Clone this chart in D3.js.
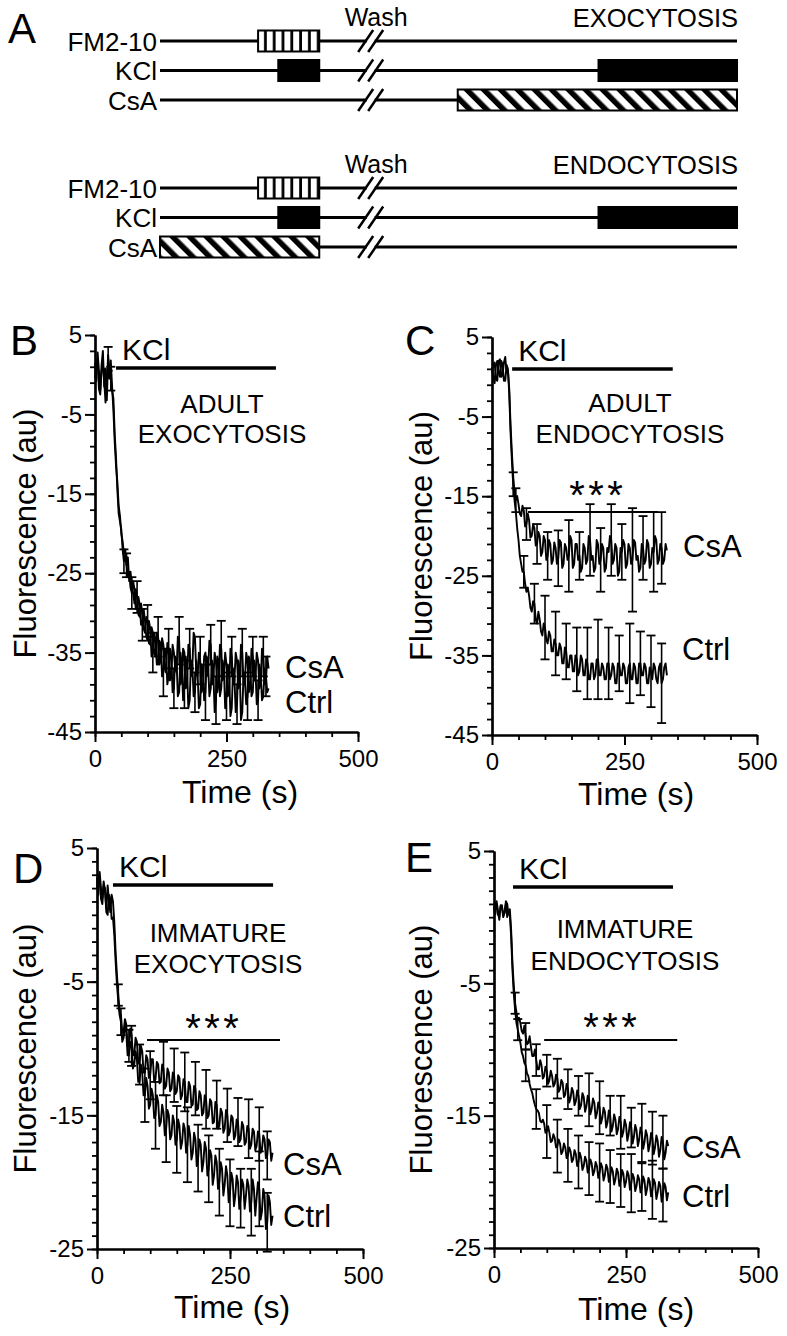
<!DOCTYPE html>
<html>
<head>
<meta charset="utf-8">
<script src="https://cdn.jsdelivr.net/npm/d3@7/dist/d3.min.js"></script>
<style>
html,body{margin:0;padding:0;background:#fff;}
svg{display:block;}
svg text{font-family:"Liberation Sans",Arial,Helvetica,sans-serif;fill:#000;}
</style>
</head>
<body>
<svg id="fig" width="787" height="1336"></svg>
<script>
// ================= DATA =================
// Panel A protocol schematic (protocol units 0-100 along the time line)
const protocolRows = ["FM2-10", "KCl", "CsA"];
const protocolTitles = ["EXOCYTOSIS", "ENDOCYTOSIS"];
const washLabel = "Wash";
const exoBlocks = [["FM2-10", 17, 27.6, "vstripe"], ["KCl", 20.5, 27.6, "solid"], ["KCl", 76, 100, "solid"], ["CsA", 51.6, 100, "diag"]];
const endoBlocks = [["FM2-10", 17, 27.6, "vstripe"], ["KCl", 20.5, 27.6, "solid"], ["KCl", 76, 100, "solid"], ["CsA", 0, 27.6, "diag"]];
const washBreak = 36.6;

// Axis ticks
const xTicks = [0, 250, 500];
const yTicksAdult = [5, -5, -15, -25, -35, -45];
const yTicksImmature = [5, -5, -15, -25];

// Time base (s)
const time = [0,2.5,5,7.5,10,12.5,15,17.5,20,22.5,25,27.5,
  30,32.5,35,37.5,40,42.5,45,47.5,50,52.5,55,57.5,
  60,62.5,65,67.5,70,72.5,75,77.5,80,82.5,85,87.5,
  90,92.5,95,97.5,100,102.5,105,107.5,110,112.5,115,117.5,
  120,122.5,125,127.5,130,132.5,135,137.5,140,142.5,145,147.5,
  150,152.5,155,157.5,160,162.5,165,167.5,170,172.5,175,177.5,
  180,182.5,185,187.5,190,192.5,195,197.5,200,202.5,205,207.5,
  210,212.5,215,217.5,220,222.5,225,227.5,230,232.5,235,237.5,
  240,242.5,245,247.5,250,252.5,255,257.5,260,262.5,265,267.5,
  270,272.5,275,277.5,280,282.5,285,287.5,290,292.5,295,297.5,
  300,302.5,305,307.5,310,312.5,315,317.5,320,322.5,325,327.5,
  330];

// B: adult exocytosis
const bCsA = [1.5,-0.8,2.8,0.5,-2.0,1.2,3.0,-1.5,0.8,-3.2,2.0,-0.5,
  1.8,-1.5,-4.5,-8.5,-11.5,-13.5,-16.5,-17.8,-20.0,-21.0,-22.5,-22.0,
  -24.0,-23.0,-26.0,-24.8,-26.5,-27.5,-28.8,-27.0,-28.0,-30.2,-30.5,-28.8,
  -30.0,-32.0,-32.5,-30.5,-31.0,-33.8,-34.0,-31.8,-32.5,-35.0,-35.5,-32.5,
  -33.0,-36.5,-36.0,-33.2,-34.0,-37.0,-37.5,-33.8,-34.5,-38.5,-38.0,-34.0,
  -35.0,-37.0,-37.5,-33.0,-33.5,-39.0,-38.5,-34.5,-35.0,-39.5,-39.0,-34.0,
  -34.5,-38.0,-37.0,-32.5,-33.0,-37.5,-38.0,-35.0,-36.0,-40.0,-39.5,-35.5,
  -35.0,-38.0,-37.5,-33.5,-34.0,-39.0,-38.5,-35.0,-36.0,-40.0,-39.0,-34.0,
  -34.5,-38.5,-38.0,-35.0,-36.5,-40.5,-40.0,-34.5,-35.5,-39.0,-38.5,-35.0,
  -36.0,-39.5,-39.0,-34.0,-35.0,-39.0,-38.5,-35.0,-36.0,-40.0,-39.5,-34.5,
  -35.5,-38.5,-38.0,-35.0,-36.0,-39.5,-39.0,-34.5,-35.5,-39.0,-38.5,-35.5,
  -37.0];
const bCtrl = [-0.5,1.2,2.0,-1.8,-2.5,0.5,1.5,-0.8,-3.5,-1.0,2.5,0.2,
  -0.5,-2.0,-3.0,-7.5,-10.5,-14.5,-17.5,-18.5,-19.5,-22.0,-23.5,-22.8,
  -24.0,-25.5,-25.0,-26.8,-27.5,-26.0,-27.0,-29.5,-29.5,-28.0,-29.0,-31.5,
  -31.5,-29.5,-31.0,-33.0,-33.5,-31.0,-32.0,-35.5,-35.0,-32.5,-33.5,-36.5,
  -36.5,-33.5,-34.0,-38.0,-37.5,-34.5,-35.0,-39.0,-38.0,-34.5,-35.5,-40.0,
  -39.5,-35.5,-36.0,-40.5,-40.0,-35.0,-36.5,-41.0,-39.0,-35.5,-37.0,-42.0,
  -41.0,-36.0,-36.5,-40.5,-40.0,-36.0,-37.5,-42.0,-41.5,-36.5,-37.0,-41.0,
  -40.0,-35.5,-36.5,-40.5,-39.5,-36.0,-37.5,-42.5,-41.0,-35.5,-36.0,-40.5,
  -39.5,-36.0,-37.0,-42.0,-40.5,-36.5,-37.5,-43.0,-42.0,-37.0,-38.0,-42.5,
  -41.5,-36.0,-37.0,-43.5,-42.5,-37.5,-38.5,-41.5,-40.5,-35.5,-36.5,-40.5,
  -40.0,-36.0,-37.0,-41.5,-41.0,-36.5,-37.5,-41.0,-40.5,-37.0,-38.0,-40.0,
  -39.5];
const bCsAErrT = [25,60,80,100,120,140,160,180,200,220,240,260,280,300,320];
const bCsAErr  = [1.5,1.5,2.0,2.0,2.5,2.5,3.0,2.5,3.0,2.5,3.5,2.5,3.0,2.5,2.5];
const bCtrlErrT = [30,55,70,90,110,130,150,170,190,210,230,250,270,290,310,325];
const bCtrlErr  = [1.5,1.5,2.0,2.0,2.5,3.0,2.5,3.0,2.5,3.5,3.0,3.0,2.5,3.0,2.5,2.5];

// C: adult endocytosis
const cCsA = [0.5,1.5,1.8,-0.3,-0.5,2.0,2.2,0.0,0.2,1.8,2.5,0.5,
  0.8,-1.5,-6.0,-9.5,-12.5,-14.5,-15.5,-15.0,-16.0,-17.2,-17.5,-16.2,
  -16.8,-18.8,-18.5,-17.2,-18.0,-20.2,-20.0,-18.5,-19.0,-21.2,-21.0,-19.5,
  -20.0,-22.5,-22.0,-20.0,-20.5,-23.0,-22.5,-20.5,-21.0,-23.5,-23.0,-20.8,
  -21.5,-23.5,-22.8,-20.5,-20.8,-24.0,-23.5,-21.0,-21.5,-23.0,-22.5,-20.0,
  -20.5,-24.0,-23.5,-21.0,-21.0,-23.0,-22.5,-24.5,-24.0,-21.0,-21.5,-23.5,
  -23.0,-20.0,-20.5,-23.0,-22.5,-24.5,-24.0,-20.5,-21.0,-23.5,-23.0,-21.0,
  -21.5,-24.5,-24.0,-21.5,-22.0,-20.0,-20.5,-23.5,-23.0,-21.0,-21.5,-25.0,
  -24.5,-21.5,-22.0,-20.5,-21.0,-24.0,-23.5,-21.0,-21.5,-23.5,-23.0,-20.5,
  -20.8,-23.0,-22.5,-24.5,-24.0,-21.0,-21.5,-23.5,-23.0,-20.5,-21.0,-24.0,
  -23.5,-21.5,-22.0,-20.0,-20.5,-23.5,-23.0,-21.0,-21.5,-23.5,-23.0,-21.0,
  -21.8];
const cCtrl = [1.2,0.0,-0.8,1.5,2.0,0.5,0.0,2.0,1.5,-0.5,-0.5,1.5,
  1.0,-2.0,-7.0,-10.5,-13.5,-15.5,-17.0,-19.0,-20.5,-22.5,-23.5,-24.5,
  -24.5,-26.0,-27.0,-26.5,-27.5,-29.0,-29.5,-28.2,-28.5,-30.5,-31.0,-29.5,
  -30.5,-32.0,-32.5,-31.0,-31.5,-33.0,-33.5,-32.0,-32.5,-34.5,-34.5,-33.0,
  -33.5,-35.0,-35.0,-33.5,-34.0,-36.0,-36.0,-34.0,-34.5,-36.5,-36.5,-35.0,
  -35.0,-37.0,-37.0,-35.0,-35.5,-37.5,-37.0,-35.0,-35.5,-37.5,-37.5,-35.5,
  -36.0,-38.0,-38.0,-36.0,-36.0,-38.0,-37.5,-35.5,-35.5,-37.5,-37.5,-36.0,
  -36.5,-38.0,-38.0,-36.0,-36.0,-38.0,-37.5,-36.0,-36.5,-38.5,-38.5,-36.0,
  -36.0,-37.5,-37.5,-36.0,-36.5,-38.5,-38.5,-36.5,-36.0,-38.0,-38.0,-36.0,
  -36.5,-38.5,-38.5,-36.0,-36.0,-37.5,-37.5,-36.0,-36.5,-38.5,-38.5,-36.5,
  -37.0,-38.0,-36.0,-36.5,-38.0,-38.5,-36.5,-36.0,-38.5,-38.0,-36.5,-36.0,
  -37.5];
const cCsAErrT = [45,65,85,105,125,145,165,185,205,225,245,265,285,305,320];
const cCsAErr  = [1.5,2.0,2.5,3.0,3.5,4.5,3.0,4.5,4.0,4.5,3.5,6.5,4.0,5.0,4.5];
const cCtrlErrT = [40,60,80,100,120,140,160,180,200,220,240,260,280,300,320];
const cCtrlErr  = [1.5,2.0,2.5,4.0,4.0,3.5,4.0,4.5,5.0,4.5,3.5,5.0,4.0,4.5,5.0];

// D: immature exocytosis
const dCsA = [2.8,1.5,3.2,2.0,1.2,2.5,1.8,0.5,2.2,1.0,0.2,1.5,
  1.0,-0.5,-2.8,-4.5,-6.0,-7.2,-7.5,-8.8,-8.8,-7.8,-8.2,-9.8,
  -9.8,-8.5,-9.0,-10.5,-10.5,-9.2,-9.5,-11.0,-11.2,-9.8,-10.2,-11.8,
  -11.8,-10.5,-10.8,-12.2,-12.0,-10.8,-10.8,-12.5,-12.3,-11.0,-11.2,-12.6,
  -12.5,-11.2,-11.5,-13.0,-12.8,-11.5,-11.8,-13.2,-13.0,-11.8,-12.0,-13.4,
  -13.2,-12.0,-12.2,-13.8,-13.5,-12.3,-12.5,-14.0,-14.0,-12.5,-12.8,-14.3,
  -14.2,-12.8,-13.0,-14.6,-14.5,-13.2,-13.5,-15.0,-14.8,-13.5,-13.8,-15.2,
  -15.0,-13.8,-14.0,-15.6,-15.5,-14.0,-14.2,-16.0,-15.8,-14.5,-14.8,-16.3,
  -16.0,-14.6,-15.0,-16.5,-16.2,-15.0,-15.2,-16.8,-16.5,-15.3,-15.5,-17.0,
  -16.8,-15.5,-15.8,-17.2,-17.0,-15.8,-16.0,-17.5,-17.2,-16.0,-16.2,-17.6,
  -17.3,-16.2,-16.4,-17.8,-17.6,-16.5,-16.8,-18.2,-18.0,-16.8,-17.0,-18.4,
  -17.8];
const dCtrl = [2.0,3.0,2.8,1.2,0.8,2.2,2.0,0.2,0.0,1.5,1.2,-0.3,
  -0.2,-1.5,-3.5,-5.2,-6.5,-7.5,-8.0,-9.5,-9.2,-8.2,-8.8,-10.5,
  -10.5,-9.5,-9.8,-11.5,-11.2,-10.2,-10.8,-12.5,-12.5,-11.2,-11.8,-13.5,
  -13.5,-12.2,-12.8,-14.5,-14.2,-13.0,-13.5,-15.2,-15.0,-13.5,-14.0,-15.8,
  -15.5,-14.2,-14.8,-16.5,-16.0,-14.6,-15.0,-16.8,-16.5,-15.0,-15.5,-17.2,
  -16.8,-15.3,-15.8,-17.5,-17.0,-15.6,-16.0,-17.8,-17.2,-15.8,-16.5,-18.3,
  -17.8,-16.3,-16.8,-18.8,-18.2,-16.8,-17.2,-19.2,-18.5,-17.0,-17.5,-19.5,
  -19.0,-17.6,-18.0,-20.2,-19.5,-18.0,-18.5,-20.5,-20.0,-18.5,-19.0,-21.0,
  -20.2,-18.8,-19.5,-21.5,-20.8,-19.3,-19.8,-21.8,-21.0,-19.5,-20.0,-22.0,
  -21.2,-19.8,-20.2,-22.0,-21.0,-19.8,-20.3,-22.2,-21.5,-19.8,-20.5,-22.5,
  -21.2,-20.0,-20.5,-22.8,-22.2,-20.5,-21.0,-23.5,-23.0,-21.0,-21.5,-23.2,
  -22.5];
const dCsAErrT = [40,60,80,100,125,145,165,185,205,225,245,265,285,305,320];
const dCsAErr  = [0.8,1.2,1.5,1.8,2.0,2.0,2.2,2.0,2.2,1.8,2.0,1.8,2.2,2.0,1.8];
const dCtrlErrT = [45,65,90,110,130,150,170,190,210,230,250,270,290,305,320];
const dCtrlErr  = [1.0,1.5,2.0,2.5,2.5,2.5,2.8,2.5,2.5,2.5,2.5,2.2,2.5,2.8,2.2];

// E: immature endocytosis
const eCsA = [0.8,0.2,1.2,0.5,-0.2,0.9,0.8,0.0,0.4,1.0,0.0,0.5,
  0.6,-1.0,-3.5,-5.2,-6.5,-7.2,-7.8,-7.6,-8.0,-8.6,-8.8,-8.2,
  -9.0,-9.6,-9.5,-9.0,-9.8,-10.5,-10.5,-10.0,-10.8,-11.5,-11.5,-10.8,
  -11.2,-12.2,-12.0,-11.3,-11.6,-12.6,-12.3,-11.6,-12.0,-12.8,-12.6,-11.9,
  -12.2,-13.2,-13.0,-12.3,-12.5,-13.6,-13.4,-12.6,-13.0,-14.0,-13.7,-12.9,
  -13.2,-14.2,-13.9,-13.1,-13.5,-14.5,-14.2,-13.3,-13.6,-14.7,-14.3,-13.5,
  -13.8,-14.9,-14.5,-13.7,-14.0,-15.2,-14.8,-14.0,-14.4,-15.6,-15.2,-14.4,
  -14.7,-15.9,-15.5,-14.6,-15.0,-16.2,-15.8,-14.9,-15.3,-16.4,-16.0,-15.1,
  -15.5,-16.6,-16.2,-15.3,-15.7,-16.9,-16.4,-15.5,-15.9,-17.1,-16.6,-15.7,
  -16.1,-17.3,-16.8,-15.9,-16.3,-17.5,-17.0,-16.1,-16.5,-17.7,-17.2,-16.3,
  -16.7,-17.9,-17.4,-16.5,-16.9,-18.1,-17.6,-16.6,-17.0,-18.3,-17.8,-16.9,
  -17.3];
const eCtrl = [0.5,1.1,1.0,0.2,0.0,0.8,0.9,0.1,0.3,1.2,1.0,0.2,
  0.2,-1.5,-4.0,-5.8,-7.0,-8.0,-8.5,-9.0,-9.5,-10.2,-10.5,-11.0,
  -11.2,-11.8,-12.0,-12.6,-13.0,-13.3,-13.8,-14.2,-14.5,-14.6,-14.8,-15.4,
  -15.5,-15.3,-15.6,-16.3,-16.2,-15.8,-16.3,-17.0,-16.9,-16.4,-16.7,-17.4,
  -17.3,-16.8,-17.1,-17.9,-17.7,-17.1,-17.4,-18.2,-18.0,-17.4,-17.7,-18.5,
  -18.3,-17.6,-17.9,-18.8,-18.5,-17.8,-18.2,-19.1,-18.8,-18.1,-18.4,-19.3,
  -19.0,-18.3,-18.6,-19.5,-19.2,-18.5,-18.8,-19.7,-19.3,-18.6,-18.9,-19.9,
  -19.5,-18.7,-19.0,-20.0,-19.6,-18.9,-19.2,-20.2,-19.8,-19.0,-19.3,-20.3,
  -19.9,-19.1,-19.4,-20.4,-20.0,-19.2,-19.5,-20.6,-20.1,-19.4,-19.7,-20.7,
  -20.3,-19.5,-19.8,-20.8,-20.4,-19.6,-19.9,-21.0,-20.5,-19.7,-20.0,-21.1,
  -20.6,-19.8,-20.1,-21.3,-20.8,-20.0,-20.3,-21.5,-21.0,-20.1,-20.4,-21.4,
  -20.8];
const eCsAErrT = [40,60,80,100,120,140,160,180,200,220,240,260,280,300,320];
const eCsAErr  = [0.8,1.0,1.2,1.2,1.5,1.5,1.5,2.0,2.0,1.5,2.0,1.5,2.2,2.0,2.0];
const eCtrlErrT = [45,60,80,100,120,140,160,180,200,220,240,260,280,300,320];
const eCtrlErr  = [0.8,1.2,1.5,2.0,2.0,2.0,2.0,2.0,2.2,2.0,2.0,2.2,1.8,2.2,2.0];

// KCl application windows (s) and significance spans (s)
const kclB = [40, 344], kclC = [38, 341], kclD = [30, 331], kclE = [36, 339];
const sigC = [68, 313], sigD = [94, 344], sigE = [95, 347];

// ================= DRAWING =================
const FONT = '"Liberation Sans", Arial, Helvetica, sans-serif';
const svg = d3.select("#fig");
svg.append("rect").attr("width", 787).attr("height", 1336).attr("fill", "#fff");
const defs = svg.append("defs");

const vp = defs.append("pattern").attr("id", "vstripe").attr("patternUnits", "userSpaceOnUse")
  .attr("x", 258).attr("y", 0).attr("width", 8.8).attr("height", 40);
vp.append("rect").attr("width", 8.8).attr("height", 40).attr("fill", "#fff");
vp.append("rect").attr("x", 6).attr("width", 3).attr("height", 40).attr("fill", "#000");
const dp = defs.append("pattern").attr("id", "diag").attr("patternUnits", "userSpaceOnUse")
  .attr("width", 12).attr("height", 12).attr("patternTransform", "rotate(-45)");
dp.append("rect").attr("width", 12).attr("height", 12).attr("fill", "#fff");
dp.append("rect").attr("width", 5.5).attr("height", 12).attr("fill", "#000");

// ---- Panel A ----
svg.append("text").attr("x", 8).attr("y", 43).attr("font-size", 42).text("A");
const sx = d3.scaleLinear().domain([0, 100]).range([160, 737]);
const rowOff = d3.scalePoint().domain(protocolRows).range([0, 59]);
const groups = [
  {top: 41, title: protocolTitles[0], blocks: exoBlocks},
  {top: 188, title: protocolTitles[1], blocks: endoBlocks}
];
groups.forEach(gp => {
  const g = svg.append("g");
  g.append("text").attr("x", sx(washBreak) + 5).attr("y", gp.top - 15)
    .attr("text-anchor", "middle").attr("font-size", 25).text(washLabel);
  g.append("text").attr("x", 738).attr("y", gp.top - 14)
    .attr("text-anchor", "end").attr("font-size", 25.5).text(gp.title);
  protocolRows.forEach(r => {
    const y = gp.top + rowOff(r);
    g.append("text").attr("x", 157).attr("y", y + 9.5).attr("text-anchor", "end")
      .attr("font-size", 26).text(r);
    g.append("line").attr("x1", sx(0)).attr("x2", sx(100)).attr("y1", y).attr("y2", y)
      .attr("stroke", "#000").attr("stroke-width", 3);
  });
  gp.blocks.forEach(b => {
    const y = gp.top + rowOff(b[0]);
    const fill = b[3] === "solid" ? "#000" : `url(#${b[3]})`;
    g.append("rect").attr("x", sx(b[1])).attr("width", sx(b[2]) - sx(b[1]))
      .attr("y", y - 10.5).attr("height", 21).attr("fill", fill)
      .attr("stroke", "#000").attr("stroke-width", 2);
  });
  protocolRows.forEach(r => {
    const y = gp.top + rowOff(r);
    const bx = sx(washBreak);
    g.append("rect").attr("x", bx - 4.5).attr("y", y - 3).attr("width", 8).attr("height", 6).attr("fill", "#fff");
    [[-13, 2], [-3, 12]].forEach(([a, b]) => {
      g.append("line").attr("x1", bx + a).attr("y1", y + 11).attr("x2", bx + b).attr("y2", y - 11)
        .attr("stroke", "#000").attr("stroke-width", 2.5);
    });
  });
});

// ---- Panels B–E ----
const panels = [
  {letter: "B", lx: 10, ly: 355, x0: 95, x1: 358, yTop: 335, yBot: 732, yDom: [-45, 5], major: yTicksAdult, minorStep: 2,
   csa: bCsA, ctrl: bCtrl, csaErrT: bCsAErrT, csaErr: bCsAErr, ctrlErrT: bCtrlErrT, ctrlErr: bCtrlErr,
   kcl: kclB, kclY: 368, title: ["ADULT", "EXOCYTOSIS"], tx: 222, ty: [413, 443], sig: null,
   csaLab: [285, 678], ctrlLab: [285, 713], ylabX: 36, timeX: 240, timeY: 803},
  {letter: "C", lx: 405, ly: 355, x0: 492, x1: 757, yTop: 337, yBot: 735, yDom: [-45, 5], major: yTicksAdult, minorStep: 2,
   csa: cCsA, ctrl: cCtrl, csaErrT: cCsAErrT, csaErr: cCsAErr, ctrlErrT: cCtrlErrT, ctrlErr: cCtrlErr,
   kcl: kclC, kclY: 369, title: ["ADULT", "ENDOCYTOSIS"], tx: 630, ty: [412, 443],
   sig: {span: sigC, y: 512, cx: 596, top: 480},
   csaLab: [683, 557], ctrlLab: [682, 660], ylabX: 432, timeX: 636, timeY: 805},
  {letter: "D", lx: 13, ly: 883, x0: 97, x1: 363, yTop: 848, yBot: 1249, yDom: [-25, 5], major: yTicksImmature, minorStep: 1,
   csa: dCsA, ctrl: dCtrl, csaErrT: dCsAErrT, csaErr: dCsAErr, ctrlErrT: dCtrlErrT, ctrlErr: dCtrlErr,
   kcl: kclD, kclY: 885, title: ["IMMATURE", "EXOCYTOSIS"], tx: 218, ty: [942, 973],
   sig: {span: sigD, y: 1040, cx: 212, top: 1013},
   csaLab: [283, 1175], ctrlLab: [283, 1227], ylabX: 36, timeX: 232, timeY: 1318},
  {letter: "E", lx: 405, ly: 872, x0: 494, x1: 758, yTop: 851, yBot: 1248, yDom: [-25, 5], major: yTicksImmature, minorStep: 1,
   csa: eCsA, ctrl: eCtrl, csaErrT: eCsAErrT, csaErr: eCsAErr, ctrlErrT: eCtrlErrT, ctrlErr: eCtrlErr,
   kcl: kclE, kclY: 887, title: ["IMMATURE", "ENDOCYTOSIS"], tx: 625, ty: [938, 970],
   sig: {span: sigE, y: 1040, cx: 610, top: 1012},
   csaLab: [682, 1158], ctrlLab: [682, 1207], ylabX: 432, timeX: 636, timeY: 1320}
];

function styleAxis(sel, lw) {
  sel.attr("font-family", FONT);
  sel.select(".domain").attr("stroke", "#000").attr("stroke-width", 2.2);
  sel.selectAll(".tick line").attr("stroke", "#000").attr("stroke-width", lw);
  sel.selectAll(".tick text").attr("font-size", 24).attr("fill", "#000");
}

panels.forEach(p => {
  const g = svg.append("g");
  const x = d3.scaleLinear().domain([0, 500]).range([p.x0, p.x1]);
  const y = d3.scaleLinear().domain(p.yDom).range([p.yBot, p.yTop]);
  const fmt = d => String(d);

  g.append("g").attr("transform", `translate(${p.x0},0)`)
    .call(d3.axisLeft(y).tickValues(d3.range(p.yDom[0], p.yDom[1] + 0.01, p.minorStep)).tickSize(5).tickFormat("").tickSizeOuter(0))
    .call(s => styleAxis(s, 1.8));
  g.append("g").attr("transform", `translate(${p.x0},0)`)
    .call(d3.axisLeft(y).tickValues(p.major).tickSize(10).tickPadding(3).tickFormat(fmt).tickSizeOuter(0))
    .call(s => styleAxis(s, 2));
  g.append("g").attr("transform", `translate(0,${p.yBot})`)
    .call(d3.axisBottom(x).tickValues(d3.range(0, 501, 50)).tickSize(5).tickFormat("").tickSizeOuter(0))
    .call(s => styleAxis(s, 1.8));
  g.append("g").attr("transform", `translate(0,${p.yBot})`)
    .call(d3.axisBottom(x).tickValues(xTicks).tickSize(10).tickPadding(8).tickFormat(fmt).tickSizeOuter(0))
    .call(s => styleAxis(s, 2));

  g.append("text").attr("transform", `translate(${p.ylabX},${(p.yTop + p.yBot) / 2}) rotate(-90)`)
    .attr("text-anchor", "middle").attr("font-size", 31).text("Fluorescence (au)");
  g.append("text").attr("x", p.timeX).attr("y", p.timeY).attr("text-anchor", "middle")
    .attr("font-size", 32).text("Time (s)");

  g.append("text").attr("x", p.lx).attr("y", p.ly).attr("font-size", 42).text(p.letter);

  g.append("line").attr("x1", x(p.kcl[0])).attr("x2", x(p.kcl[1])).attr("y1", p.kclY).attr("y2", p.kclY)
    .attr("stroke", "#000").attr("stroke-width", 3.5);
  g.append("text").attr("x", x(p.kcl[0]) + 6).attr("y", p.kclY - 8).attr("font-size", 30).text("KCl");

  p.title.forEach((t, i) => {
    g.append("text").attr("x", p.tx).attr("y", p.ty[i]).attr("text-anchor", "middle")
      .attr("font-size", 26).text(t);
  });

  if (p.sig) {
    g.append("line").attr("x1", x(p.sig.span[0])).attr("x2", x(p.sig.span[1]))
      .attr("y1", p.sig.y).attr("y2", p.sig.y).attr("stroke", "#000").attr("stroke-width", 2);
    [-19, 0, 19].forEach(dx => {
      g.append("text").attr("x", p.sig.cx + dx).attr("y", p.sig.top + 29).attr("text-anchor", "middle")
        .attr("font-size", 40).text("*");
    });
  }

  const line = d3.line().x((d, i) => x(time[i])).y(d => y(d));
  [p.ctrl, p.csa].forEach(vals => {
    g.append("path").datum(vals).attr("d", line).attr("fill", "none")
      .attr("stroke", "#000").attr("stroke-width", 1.9).attr("stroke-linejoin", "round");
  });

  function errBars(vals, tArr, sArr) {
    tArr.forEach((t, i) => {
      const v = vals[time.indexOf(t)], s = sArr[i];
      const xx = x(t), ya = y(v + s), yb = y(v - s);
      g.append("line").attr("x1", xx).attr("x2", xx).attr("y1", ya).attr("y2", yb)
        .attr("stroke", "#000").attr("stroke-width", 1.6);
      [ya, yb].forEach(yy => g.append("line").attr("x1", xx - 4.5).attr("x2", xx + 4.5)
        .attr("y1", yy).attr("y2", yy).attr("stroke", "#000").attr("stroke-width", 1.8));
    });
  }
  errBars(p.csa, p.csaErrT, p.csaErr);
  errBars(p.ctrl, p.ctrlErrT, p.ctrlErr);

  g.append("text").attr("x", p.csaLab[0]).attr("y", p.csaLab[1]).attr("font-size", 31).text("CsA");
  g.append("text").attr("x", p.ctrlLab[0]).attr("y", p.ctrlLab[1]).attr("font-size", 31).text("Ctrl");
});
</script>
</body>
</html>
